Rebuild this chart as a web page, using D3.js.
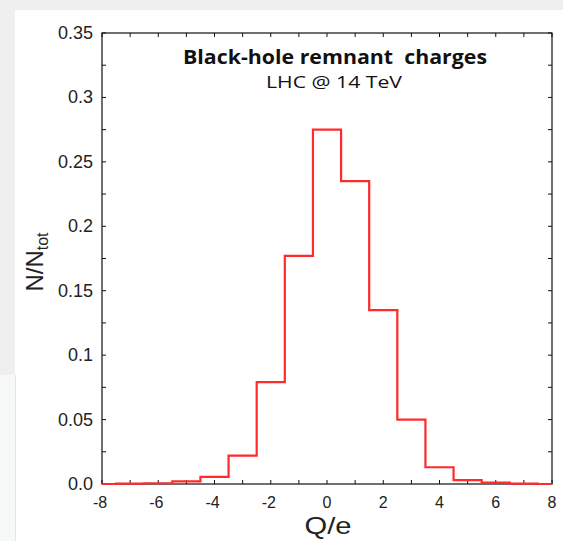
<!DOCTYPE html>
<html><head><meta charset="utf-8">
<script src="https://cdn.jsdelivr.net/npm/d3@7"></script>
<style>body{margin:0;background:#fff;}svg{display:block;}</style>
</head><body><div id="chart"></div>
<script>
const binCenters = [-7,-6,-5,-4,-3,-2,-1,0,1,2,3,4,5,6,7];
const fractions = [0.0003,0.0006,0.002,0.0055,0.022,0.079,0.177,0.275,0.235,0.135,0.050,0.013,0.003,0.001,0.0003];
const xTickLabels = [-8,-6,-4,-2,0,2,4,6,8];
const yTickLabels = ["0.0","0.05","0.1","0.15","0.2","0.25","0.3","0.35"];
const yTickValues = [0,0.05,0.1,0.15,0.2,0.25,0.3,0.35];

const W=563,H=541;
const svg=d3.select("#chart").append("svg").attr("width",W).attr("height",H);
// page background bands
svg.append("rect").attr("x",0).attr("y",0).attr("width",W).attr("height",10).attr("fill","#efefef");
svg.append("rect").attr("x",0).attr("y",0).attr("width",15).attr("height",375).attr("fill","#efefef");
svg.append("rect").attr("x",0).attr("y",375).attr("width",15).attr("height",H-375).attr("fill","#f7f8f8");
svg.append("line").attr("x1",15.5).attr("x2",15.5).attr("y1",375).attr("y2",H).attr("stroke","#e4e4e4");

const L=102,R=552,T=33,B=484;
const x=d3.scaleLinear().domain([-8,8]).range([L,R]);
const y=d3.scaleLinear().domain([0,0.35]).range([B,T]);

// frame
svg.append("rect").attr("x",L).attr("y",T).attr("width",R-L).attr("height",B-T)
  .attr("fill","none").attr("stroke","#111").attr("stroke-width",1.2);

const minorX=d3.range(-8,9,1), minorY=d3.range(0,0.351,0.025);
const tk=svg.append("g").attr("stroke","#111").attr("stroke-width",1);
minorX.forEach(v=>{
  tk.append("line").attr("x1",x(v)).attr("x2",x(v)).attr("y1",B).attr("y2",B-4);
  tk.append("line").attr("x1",x(v)).attr("x2",x(v)).attr("y1",T).attr("y2",T+4);
});
minorY.forEach(v=>{
  tk.append("line").attr("x1",L).attr("x2",L+4).attr("y1",y(v)).attr("y2",y(v));
  tk.append("line").attr("x1",R).attr("x2",R-4).attr("y1",y(v)).attr("y2",y(v));
});

const font="'Liberation Sans', Arial, sans-serif";
svg.append("g").selectAll("text").data(xTickLabels).join("text")
  .attr("x",d=>x(d)-(d<0?2:0)).attr("y",B+24).attr("text-anchor","middle")
  .attr("font-family",font).attr("font-size",16).attr("fill","#222")
  .text(d=>d);
svg.append("g").selectAll("text").data(yTickValues).join("text")
  .attr("x",L-9).attr("y",d=>y(d)+6).attr("text-anchor","end")
  .attr("font-family",font).attr("font-size",18).attr("fill","#222")
  .text((d,i)=>yTickLabels[i]);

// axis titles
svg.append("text").attr("x",328).attr("y",534).attr("text-anchor","middle")
  .attr("font-family",font).attr("font-size",24).attr("fill","#222")
  .attr("textLength",47).attr("lengthAdjust","spacingAndGlyphs").text("Q/e");
const yt=svg.append("text").attr("transform","translate(43,262) rotate(-90)").attr("text-anchor","middle")
  .attr("font-family",font).attr("font-size",24).attr("fill","#222");
yt.append("tspan").text("N/N");
yt.append("tspan").attr("font-size",16).attr("dy",5).text("tot");

// histogram step line
const pts=[];
pts.push([x(-7.5),y(0)]);
binCenters.forEach((c,i)=>{pts.push([x(c-0.5),y(fractions[i])]);pts.push([x(c+0.5),y(fractions[i])]);});
pts.push([x(7.5),y(0)]);
const full=[[x(-8),y(0)],...pts,[x(8),y(0)]];
svg.append("path").attr("d",d3.line()(full)).attr("fill","none")
  .attr("stroke","#ff2a2a").attr("stroke-width",2.2).attr("stroke-linejoin","miter");

// titles
svg.append("text").attr("x",335).attr("y",64).attr("text-anchor","middle")
  .attr("font-family","'Open Sans', sans-serif").attr("font-weight","bold").attr("font-size",20)
  .attr("fill","#111").attr("textLength",304).attr("lengthAdjust","spacingAndGlyphs")
  .style("white-space","pre").text("Black-hole remnant  charges");
svg.append("text").attr("x",334).attr("y",88).attr("text-anchor","middle")
  .attr("font-family","'Open Sans', sans-serif").attr("font-size",17)
  .attr("fill","#111").attr("textLength",136).attr("lengthAdjust","spacingAndGlyphs").text("LHC @ 14 TeV");
</script></body></html>
